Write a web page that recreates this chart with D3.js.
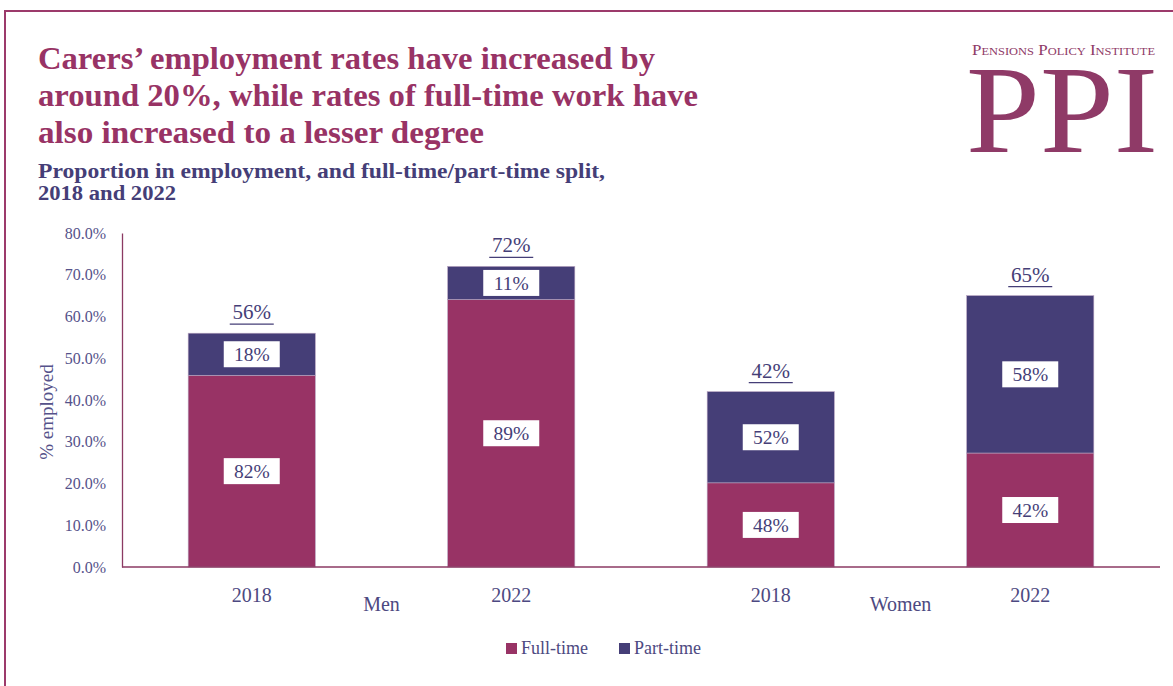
<!DOCTYPE html>
<html>
<head>
<meta charset="utf-8">
<script src="https://cdn.jsdelivr.net/npm/d3@7/dist/d3.min.js"></script>
<style>
  html, body { margin: 0; padding: 0; background: #fff; }
  svg { display: block; }
  text { font-family: "Liberation Serif", "Times New Roman", serif; }
</style>
</head>
<body>
<svg id="chart" width="1173" height="686"></svg>
<script>
// Bars: one per group/year
const groups = ["Men", "Men", "Women", "Women"];
const years = ["2018", "2022", "2018", "2022"];
// Share of carers in employment (%)
const totalEmployed = [56, 72, 42, 65];
// Split of those employed (% of the employed)
const fullTimeShare = [82, 89, 48, 42];
const partTimeShare = [18, 11, 52, 58];
// Axis ticks
const yTicks = [0, 10, 20, 30, 40, 50, 60, 70, 80];
const seriesNames = ["Full-time", "Part-time"];

const maroon = "#983365";
const indigo = "#453e77";
const axisText = "#4d4981";

const svg = d3.select("#chart");
const W = 1173, H = 686;
const plot = { left: 122, right: 1160, top: 233, bottom: 567 };

// frame
svg.append("line").attr("x1", 5).attr("x2", W).attr("y1", 11).attr("y2", 11)
  .attr("stroke", "#9c3a6b").attr("stroke-width", 2);
svg.append("line").attr("x1", 5).attr("x2", 5).attr("y1", 10).attr("y2", H)
  .attr("stroke", "#9c3a6b").attr("stroke-width", 2);

// title
const titleLines = [
  "Carers\u2019 employment rates have increased by",
  "around 20%, while rates of full-time work have",
  "also increased to a lesser degree"
];
const titleWidths = [617, 660, 446];
svg.append("g").selectAll("text").data(titleLines).join("text")
  .attr("x", 38).attr("y", (d, i) => 69 + i * 37)
  .attr("font-size", 31).attr("font-weight", "bold").attr("fill", maroon)
  .attr("textLength", (d, i) => titleWidths[i]).attr("lengthAdjust", "spacingAndGlyphs")
  .text(d => d);

const subLines = ["Proportion in employment, and full-time/part-time split,", "2018 and 2022"];
const subWidths = [567, 138];
svg.append("g").selectAll("text").data(subLines).join("text")
  .attr("x", 38).attr("y", (d, i) => 178 + i * 22)
  .attr("font-size", 20.5).attr("font-weight", "bold").attr("fill", indigo)
  .attr("textLength", (d, i) => subWidths[i]).attr("lengthAdjust", "spacingAndGlyphs")
  .text(d => d);

// logo
svg.append("text").attr("x", 972).attr("y", 55)
  .attr("font-size", 15).attr("fill", "#8f3a67")
  .style("font-variant", "small-caps")
  .attr("textLength", 183).attr("lengthAdjust", "spacingAndGlyphs")
  .text("Pensions Policy Institute");
svg.append("text").attr("x", 966).attr("y", 152)
  .attr("font-size", 124).attr("fill", "#8f3a67")
  .attr("textLength", 192).attr("lengthAdjust", "spacingAndGlyphs")
  .text("PPI");

// scales
const keys = years.map((y, i) => i);
const x = d3.scaleBand().domain(keys).range([plot.left, plot.right])
  .paddingInner(0.51).paddingOuter(0.255);
const y = d3.scaleLinear().domain([0, 80]).range([plot.bottom, plot.top]);

const rows = keys.map(i => {
  const ft = totalEmployed[i] * fullTimeShare[i] / 100;
  return { i, "Full-time": ft, "Part-time": totalEmployed[i] - ft,
           shares: { "Full-time": fullTimeShare[i], "Part-time": partTimeShare[i] } };
});
const stacked = d3.stack().keys(seriesNames)(rows);
const color = d3.scaleOrdinal().domain(seriesNames).range([maroon, indigo]);

// y axis
const yAxis = d3.axisLeft(y).tickValues(yTicks).tickSize(0).tickPadding(16)
  .tickFormat(d => d3.format(".1f")(d) + "%");
const gy = svg.append("g").attr("transform", `translate(${plot.left},0)`).call(yAxis);
gy.select(".domain").attr("stroke", "#8b3a63").attr("stroke-width", 1.3);
gy.selectAll("text").attr("font-size", 16).attr("fill", "#55528a")
  .attr("font-family", "Liberation Serif, serif");

svg.append("text")
  .attr("transform", `translate(53,${(plot.top + plot.bottom) / 2 + 12}) rotate(-90)`)
  .attr("text-anchor", "middle").attr("font-size", 19).attr("fill", "#55528a")
  .text("% employed");

// bars
const layer = svg.append("g").selectAll("g").data(stacked).join("g")
  .attr("fill", d => color(d.key));
layer.selectAll("rect").data(d => d).join("rect")
  .attr("x", d => x(d.data.i))
  .attr("width", x.bandwidth())
  .attr("y", d => y(d[1]))
  .attr("height", d => y(d[0]) - y(d[1]))
  .attr("stroke", "#b8a4c0").attr("stroke-width", 0.6);

// x axis line
svg.append("line").attr("x1", plot.left).attr("x2", plot.right)
  .attr("y1", plot.bottom).attr("y2", plot.bottom)
  .attr("stroke", "#8b3a63").attr("stroke-width", 1.3);

// segment labels
const segLabels = svg.append("g");
stacked.forEach(s => {
  s.forEach(d => {
    const cx = x(d.data.i) + x.bandwidth() / 2;
    const cy = (y(d[0]) + y(d[1])) / 2;
    const g = segLabels.append("g").attr("transform", `translate(${cx},${cy})`);
    g.append("rect").attr("x", -28).attr("y", -13).attr("width", 56).attr("height", 26)
      .attr("fill", "#fff");
    g.append("text").attr("text-anchor", "middle").attr("dy", "0.35em")
      .attr("font-size", 19.5).attr("fill", indigo)
      .text(d.data.shares[s.key] + "%");
  });
});

// total labels (underlined)
const totals = svg.append("g").selectAll("g").data(keys).join("g")
  .attr("transform", i => `translate(${x(i) + x.bandwidth() / 2},${y(totalEmployed[i]) - 14})`);
totals.append("text").attr("text-anchor", "middle").attr("font-size", 21).attr("fill", indigo)
  .text(i => totalEmployed[i] + "%");
totals.append("line").attr("x1", -22).attr("x2", 22).attr("y1", 5).attr("y2", 5)
  .attr("stroke", indigo).attr("stroke-width", 1.3);

// category labels
svg.append("g").selectAll("text").data(keys).join("text")
  .attr("x", i => x(i) + x.bandwidth() / 2).attr("y", 602)
  .attr("text-anchor", "middle").attr("font-size", 20).attr("fill", axisText)
  .text(i => years[i]);
const groupNames = Array.from(new Set(groups));
svg.append("g").selectAll("text").data(groupNames).join("text")
  .attr("x", g => {
    const idx = keys.filter(i => groups[i] === g);
    return d3.mean(idx, i => x(i) + x.bandwidth() / 2);
  })
  .attr("y", 611).attr("text-anchor", "middle").attr("font-size", 20).attr("fill", axisText)
  .text(g => g);

// legend
const legend = svg.append("g").attr("transform", "translate(506,654)");
const legendX = [0, 113];
const li = legend.selectAll("g").data(seriesNames).join("g")
  .attr("transform", (d, i) => `translate(${legendX[i]},0)`);
li.append("rect").attr("x", 0).attr("y", -11).attr("width", 11).attr("height", 11)
  .attr("fill", d => color(d));
li.append("text").attr("x", 15).attr("font-size", 18).attr("fill", axisText).text(d => d);
</script>
</body>
</html>
